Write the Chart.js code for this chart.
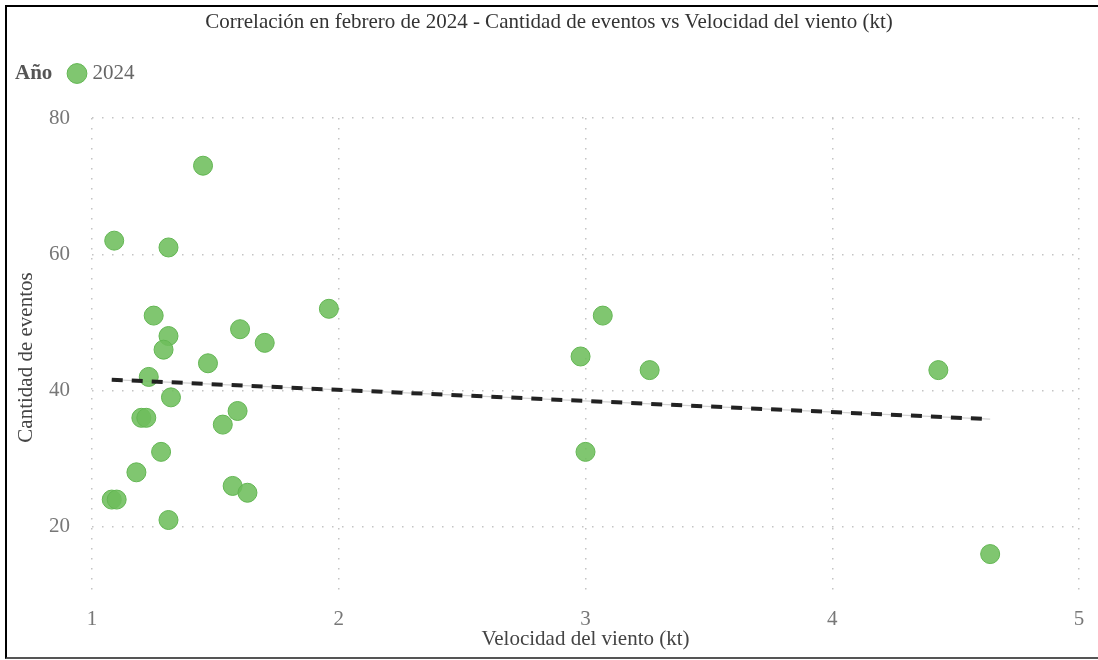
<!DOCTYPE html>
<html>
<head>
<meta charset="utf-8">
<script src="https://cdn.jsdelivr.net/npm/chart.js@4.4.1/dist/chart.umd.min.js"></script>
<style>
  html, body { margin: 0; padding: 0; background: #fff; overflow: hidden; }
  #wrap { position: relative; width: 1098px; height: 660px; overflow: hidden; }
  #frame {
    position: absolute; left: 5px; top: 5px; width: 1300px; height: 654px;
    box-sizing: border-box;
    border-top: 2.5px solid #000; border-left: 2.5px solid #000; border-bottom: 2px solid #555;
    pointer-events: none;
  }
</style>
</head>
<body>
<div id="wrap">
  <canvas id="myChart" width="1098" height="660"></canvas>
  <div id="frame"></div>
</div>
<script>
// February 2024, one point per day
const windSpeed = [1.08, 1.10, 1.09, 1.31, 1.25, 1.31, 1.29, 1.23, 1.32, 1.20, 1.22, 1.28, 1.18, 1.31, 1.45,
                   1.96, 1.60, 1.70, 1.47, 1.53, 1.59, 1.57, 1.63, 3.07, 2.98, 3.26, 3.00, 4.43, 4.64];
const eventCount = [24, 24, 62, 61, 51, 48, 46, 42, 39, 36, 36, 31, 28, 21, 73,
                    52, 49, 47, 44, 35, 37, 26, 25, 51, 45, 43, 31, 43, 16];
const trendX = [1.08, 4.64];
const trendY = [41.6, 35.8];
const xTicks = [1, 2, 3, 4, 5];
const yTicks = [20, 40, 60, 80];

const serif = "'Liberation Serif', 'DejaVu Serif', serif";
const fontSize = 21;

const points = windSpeed.map((x, i) => ({x: x, y: eventCount[i]}));
const trend = trendX.map((x, i) => ({x: x, y: trendY[i]}));

// legend needs extra room below it, the "Año" caption and a full-width title
const layoutTweaks = {
    id: 'layoutTweaks',
    beforeLayout(chart) {
        const lg = chart.legend;
        if (lg && !lg._tall) {
            const fit = lg.fit.bind(lg);
            lg.fit = function () { fit(); this.height = 65; };
            lg._tall = true;
        }
    },
    afterLayout(chart) {
        chart.legend.left += 62;
        chart.titleBlock.right = chart.width;
        chart.titleBlock.width = chart.width;
    },
    afterDraw(chart) {
        const ctx = chart.ctx;
        ctx.save();
        ctx.font = 'bold ' + fontSize + 'px ' + serif;
        ctx.fillStyle = '#555';
        ctx.textBaseline = 'middle';
        ctx.textAlign = 'left';
        ctx.fillText('Año', 15, chart.legend.top + 10 + fontSize / 2);
        ctx.restore();
    }
};

const gridStyle = {color: '#c4c4c4', lineWidth: 1.5, drawTicks: false};

new Chart(document.getElementById('myChart'), {
    type: 'scatter',
    data: {
        datasets: [
            {
                label: 'trend',
                data: trend,
                showLine: true,
                borderColor: '#222',
                borderWidth: 4,
                borderDash: [11, 9],
                pointRadius: 0,
                order: 0
            },
            {
                label: '2024',
                data: points,
                backgroundColor: 'rgba(110,190,92,0.88)',
                borderColor: 'rgba(98,182,82,1)',
                borderWidth: 1,
                pointRadius: 9.5,
                order: 1
            },
            {
                label: 'trendBase',
                data: trend,
                showLine: true,
                borderColor: '#d2d2d2',
                borderWidth: 1.2,
                pointRadius: 0,
                order: 2
            }
        ]
    },
    options: {
        responsive: false,
        animation: false,
        layout: {padding: {left: 0, right: 19, top: 0, bottom: 0}},
        plugins: {
            title: {
                display: true,
                text: 'Correlación en febrero de 2024 - Cantidad de eventos vs Velocidad del viento (kt)',
                color: '#333',
                font: {family: serif, size: fontSize, weight: 'normal'},
                padding: {top: 9.5, bottom: 18.3}
            },
            legend: {
                display: true,
                position: 'top',
                align: 'start',
                labels: {
                    usePointStyle: true,
                    pointStyle: 'circle',
                    boxWidth: 10,
                    boxHeight: 14,
                    padding: 10,
                    color: '#666',
                    font: {family: serif, size: fontSize},
                    filter: item => item.text === '2024'
                }
            },
            tooltip: {enabled: false}
        },
        scales: {
            x: {
                type: 'linear',
                min: 1,
                max: 5,
                afterBuildTicks: s => { s.ticks = xTicks.map(v => ({value: v})); },
                afterFit: s => { s.height = 63; },
                grid: gridStyle,
                border: {display: false, dash: [1.5, 8.5]},
                ticks: {color: '#777', padding: 10, font: {family: serif, size: fontSize}},
                title: {
                    display: true,
                    text: 'Velocidad del viento (kt)',
                    color: '#444',
                    font: {family: serif, size: fontSize},
                    padding: {top: 0, bottom: 8}
                }
            },
            y: {
                type: 'linear',
                min: 9.7,
                max: 80,
                afterBuildTicks: s => { s.ticks = yTicks.map(v => ({value: v})); },
                afterFit: s => { s.width = 92; },
                grid: gridStyle,
                border: {display: false, dash: [1.5, 8.5]},
                ticks: {color: '#777', padding: 22, font: {family: serif, size: fontSize}},
                title: {
                    display: true,
                    text: 'Cantidad de eventos',
                    color: '#444',
                    font: {family: serif, size: fontSize},
                    padding: {top: 14, bottom: 4}
                }
            }
        }
    },
    plugins: [layoutTweaks]
});
</script>
</body>
</html>
